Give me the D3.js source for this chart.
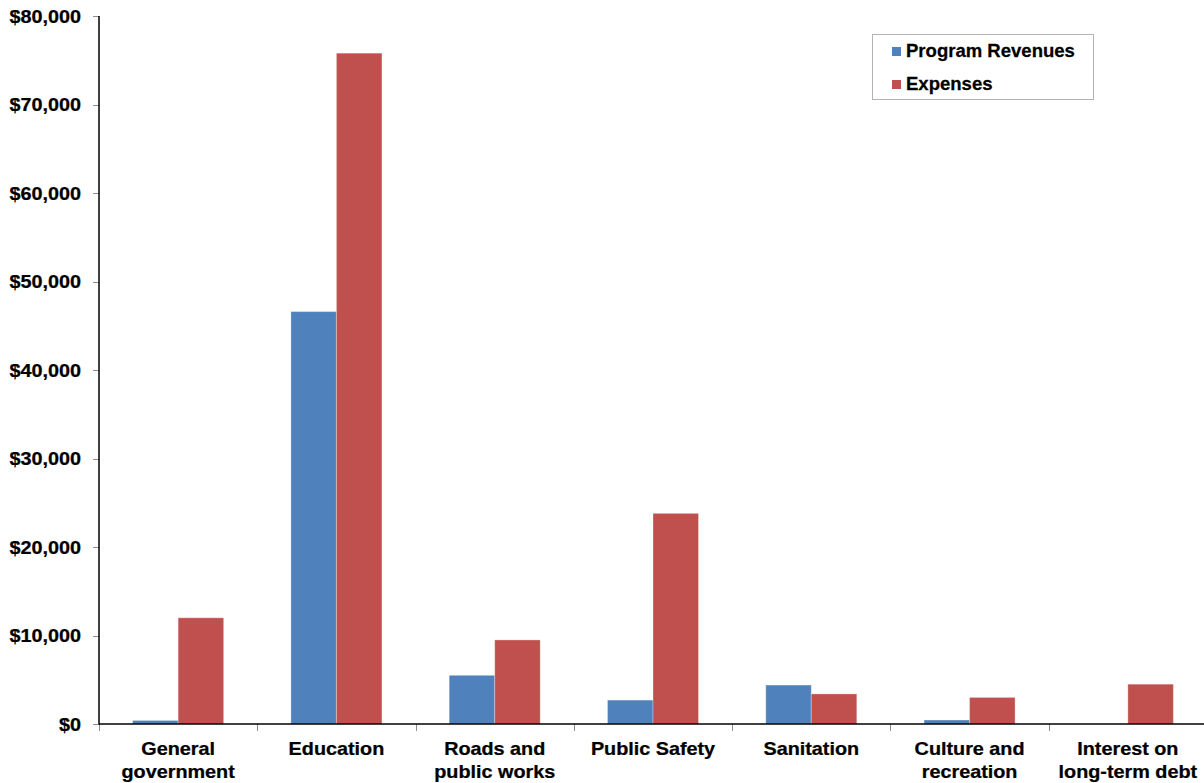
<!DOCTYPE html>
<html>
<head>
<meta charset="utf-8">
<script src="https://cdn.jsdelivr.net/npm/d3@7/dist/d3.min.js"></script>
<style>
  html, body { margin: 0; padding: 0; background: #fff; }
  svg { display: block; }
  text { font-family: "Liberation Sans", Arial, sans-serif; font-weight: bold; fill: #000; stroke: #000; stroke-width: 0.25; }
</style>
</head>
<body>
<svg id="chart" width="1204" height="783"></svg>
<script>
// Government-wide program revenues vs. expenses by function (in thousands)
const categories = [
  ["General", "government"],
  ["Education"],
  ["Roads and", "public works"],
  ["Public Safety"],
  ["Sanitation"],
  ["Culture and", "recreation"],
  ["Interest on", "long-term debt"]
];
const programRevenues = [400, 46600, 5500, 2700, 4400, 450, 0];
const expenses = [12000, 75800, 9500, 23800, 3400, 3000, 4500];
const seriesNames = ["Program Revenues", "Expenses"];
const seriesColors = ["#4F81BD", "#C0504D"];
const yTicks = [0, 10000, 20000, 30000, 40000, 50000, 60000, 70000, 80000];

const svg = d3.select("#chart");
const plotLeft = 99, plotRight = 1207, plotTop = 16, plotBottom = 724;
const stretch = 1.1;

const x = d3.scaleBand().domain(d3.range(categories.length)).range([plotLeft, plotRight]).paddingInner(0).paddingOuter(0);
const groupWidth = x.bandwidth() * 0.575;
const x1 = d3.scaleBand().domain([0, 1]).range([0, groupWidth]).padding(0);
const y = d3.scaleLinear().domain([0, 80000]).range([plotBottom, plotTop]);

const rows = categories.map((c, i) => ({ i, values: [programRevenues[i], expenses[i]] }));

// bars
const groups = svg.append("g").selectAll("g").data(rows).join("g")
  .attr("transform", d => `translate(${x(d.i) + (x.bandwidth() - groupWidth) / 2},0)`);
groups.selectAll("rect").data(d => d.values.map((v, s) => ({ v, s }))).join("rect")
  .attr("x", d => x1(d.s))
  .attr("width", x1.bandwidth())
  .attr("y", d => y(d.v))
  .attr("height", d => plotBottom - y(d.v))
  .attr("fill", d => seriesColors[d.s])
  .attr("stroke", "rgba(255,255,255,0.3)")
  .attr("stroke-width", 1);

// y axis ticks and labels
const yg = svg.append("g");
yg.selectAll("line").data(yTicks).join("line")
  .attr("x1", plotLeft - 6).attr("x2", plotLeft)
  .attr("y1", d => Math.round(y(d)) + 0.5).attr("y2", d => Math.round(y(d)) + 0.5)
  .attr("stroke", "#8c8c8c");
const fmt = d3.format("$,");
yg.selectAll("text").data(yTicks).join("text")
  .attr("transform", d => `translate(81,${y(d) + 6.5}) scale(${stretch},1)`)
  .attr("text-anchor", "end")
  .attr("font-size", 18)
  .text(d => fmt(d));

// x axis ticks at band boundaries
const bounds = d3.range(categories.length + 1).map(i => plotLeft + i * x.bandwidth());
svg.append("g").selectAll("line").data(bounds).join("line")
  .attr("x1", d => Math.round(d) + 0.5).attr("x2", d => Math.round(d) + 0.5)
  .attr("y1", plotBottom).attr("y2", plotBottom + 7)
  .attr("stroke", "#8c8c8c");

// axis lines
svg.append("line").attr("x1", plotLeft).attr("x2", plotLeft).attr("y1", plotTop).attr("y2", plotBottom + 0.5)
  .attr("stroke", "#000").attr("stroke-width", 1.5);
svg.append("line").attr("x1", plotLeft).attr("x2", 1204).attr("y1", plotBottom).attr("y2", plotBottom)
  .attr("stroke", "#000").attr("stroke-width", 1.5);

// category labels
const cl = svg.append("g").selectAll("g").data(categories).join("g")
  .attr("transform", (d, i) => `translate(${x(i) + x.bandwidth() / 2},0)`);
cl.selectAll("text").data(d => d).join("text")
  .attr("transform", (d, j) => `translate(0,${755 + j * 23}) scale(${stretch},1)`)
  .attr("text-anchor", "middle")
  .attr("font-size", 18)
  .text(d => d);

// legend
const lg = svg.append("g");
lg.append("rect").attr("x", 872.5).attr("y", 34.5).attr("width", 221).attr("height", 65)
  .attr("fill", "#fff").attr("stroke", "#b3b3b3");
const items = lg.selectAll("g").data(seriesNames).join("g")
  .attr("transform", (d, i) => `translate(892,${47 + i * 33})`);
items.append("rect").attr("width", 9).attr("height", 9).attr("fill", (d, i) => seriesColors[i]).attr("stroke", "none");
items.append("text").attr("transform", "translate(14,10) scale(1.03,1)").attr("font-size", 18).text(d => d);
</script>
</body>
</html>
